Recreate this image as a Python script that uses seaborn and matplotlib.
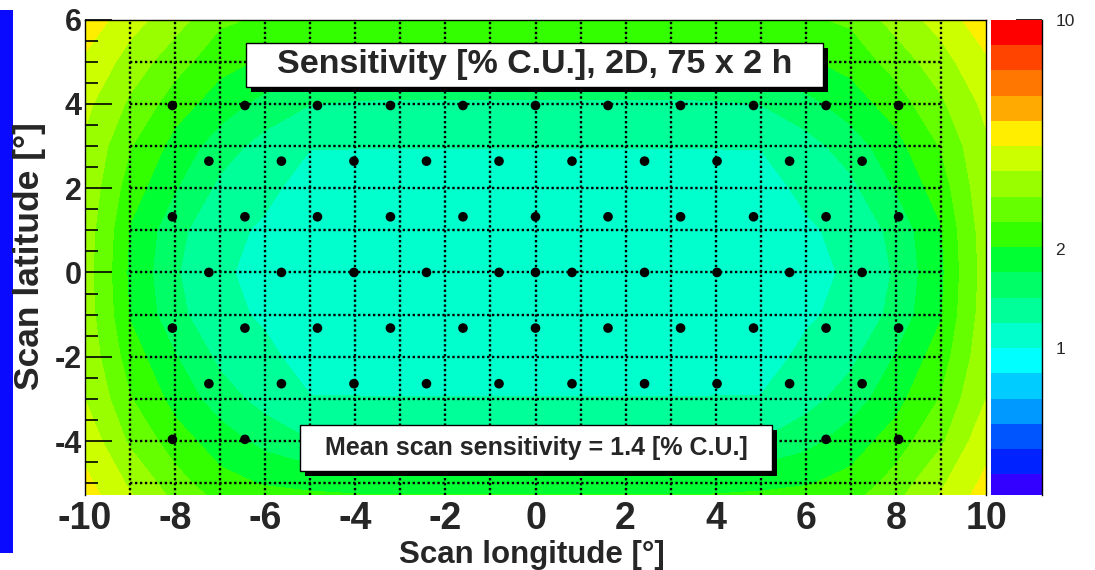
import numpy as np
import pandas as pd
import matplotlib
matplotlib.use("Agg")
import matplotlib.pyplot as plt
from matplotlib.patches import Rectangle
import seaborn as sns

# ---------------------------------------------------------------
# Sensitivity map [% C.U.] on a 1-degree grid (rows: lat 6 .. -6,
# columns: lon -10 .. 10)
# ---------------------------------------------------------------
lon_grid = list(range(-10, 11))
lat_grid = list(range(6, -7, -1))
sensitivity = [
    [4.60, 3.70, 3.10, 2.50, 2.36, 2.33, 2.32, 2.31, 2.30, 2.30, 2.30, 2.30, 2.30, 2.31, 2.32, 2.33, 2.36, 2.50, 3.10, 3.70, 4.60],
    [4.00, 3.20, 2.60, 2.15, 1.98, 1.88, 1.83, 1.81, 1.80, 1.80, 1.80, 1.80, 1.80, 1.81, 1.83, 1.88, 1.98, 2.15, 2.60, 3.20, 4.00],
    [3.60, 2.80, 2.20, 1.85, 1.60, 1.43, 1.39, 1.38, 1.38, 1.38, 1.38, 1.38, 1.38, 1.38, 1.39, 1.43, 1.60, 1.85, 2.20, 2.80, 3.60],
    [3.35, 2.45, 1.90, 1.55, 1.32, 1.20, 1.20, 1.20, 1.20, 1.20, 1.20, 1.20, 1.20, 1.20, 1.20, 1.20, 1.32, 1.55, 1.90, 2.45, 3.35],
    [3.25, 2.20, 1.72, 1.36, 1.23, 1.13, 1.11, 1.10, 1.10, 1.10, 1.10, 1.10, 1.10, 1.10, 1.11, 1.13, 1.23, 1.36, 1.72, 2.20, 3.25],
    [3.15, 2.00, 1.50, 1.24, 1.17, 1.12, 1.10, 1.09, 1.08, 1.08, 1.08, 1.08, 1.08, 1.09, 1.10, 1.12, 1.17, 1.24, 1.50, 2.00, 3.15],
    [3.10, 1.95, 1.45, 1.21, 1.16, 1.12, 1.10, 1.09, 1.08, 1.08, 1.08, 1.08, 1.08, 1.09, 1.10, 1.12, 1.16, 1.21, 1.45, 1.95, 3.10],
    [3.15, 2.00, 1.50, 1.24, 1.17, 1.12, 1.10, 1.09, 1.08, 1.08, 1.08, 1.08, 1.08, 1.09, 1.10, 1.12, 1.17, 1.24, 1.50, 2.00, 3.15],
    [3.25, 2.20, 1.72, 1.36, 1.23, 1.13, 1.11, 1.10, 1.10, 1.10, 1.10, 1.10, 1.10, 1.10, 1.11, 1.13, 1.23, 1.36, 1.72, 2.20, 3.25],
    [3.45, 2.45, 1.90, 1.55, 1.32, 1.20, 1.20, 1.20, 1.20, 1.20, 1.20, 1.20, 1.20, 1.20, 1.20, 1.20, 1.32, 1.55, 1.90, 2.45, 3.45],
    [3.85, 2.80, 2.20, 1.85, 1.60, 1.43, 1.39, 1.38, 1.38, 1.38, 1.38, 1.38, 1.38, 1.38, 1.39, 1.43, 1.60, 1.85, 2.20, 2.80, 3.85],
    [4.30, 3.35, 2.60, 2.15, 2.00, 1.92, 1.87, 1.86, 1.85, 1.85, 1.85, 1.85, 1.85, 1.86, 1.87, 1.92, 2.00, 2.15, 2.60, 3.35, 4.30],
    [4.80, 3.90, 3.10, 2.60, 2.52, 2.51, 2.50, 2.50, 2.50, 2.50, 2.50, 2.50, 2.50, 2.50, 2.50, 2.51, 2.52, 2.60, 3.10, 3.90, 4.80],
]

# Pointing pattern: 75 pointings of 2 h each
row_lat = [3.96, 2.64, 1.32, 0.0, -1.32, -2.64, -3.96]
lon_full = [-8.06, -6.45, -4.84, -3.22, -1.61, 0.0, 1.61, 3.22, 4.84, 6.45, 8.06]
lon_half = [-7.25, -5.64, -4.03, -2.42, -0.81, 0.81, 2.42, 4.03, 5.64, 7.25]
lon_mid = [-7.25, -5.64, -4.03, -2.42, -0.81, 0.0, 0.81, 2.42, 4.03, 5.64, 7.25]
row_lons = [lon_full, lon_half, lon_full, lon_mid, lon_full, lon_half, lon_full]

mean_sensitivity = 1.4

# Colour bands: 20 log-spaced contour levels from ~0.29 to 10
band_colors = [
    "#6600ff", "#3300ff", "#0022ff", "#0055ff", "#0099ff",
    "#00ccff", "#00ffff", "#00ffcc", "#00ff99", "#00ff66",
    "#00ff33", "#33ff00", "#66ff00", "#99ff00", "#ccff00",
    "#ffee00", "#ffaa00", "#ff7700", "#ff4400", "#ff0000",
]
levels = np.logspace(1 - 20 / 13, 1, 21)

pointings = pd.DataFrame({
    "lon": [lo for lons in row_lons for lo in lons],
    "lat": [la for la, lons in zip(row_lat, row_lons) for _ in lons],
})

# ---------------------------------------------------------------
sns.set_theme(style="white")
plt.rcParams["font.family"] = ["Liberation Sans", "DejaVu Sans"]
plt.rcParams["font.weight"] = "bold"
plt.rcParams["axes.unicode_minus"] = False

W, H = 1095, 570
fig = plt.figure(figsize=(W / 100, H / 100), dpi=100)
fig.patch.set_facecolor("white")


def fx(px):
    return px / W


def fy(py):
    return 1 - py / H


ax = fig.add_axes([fx(85), fy(495), fx(986) - fx(85), fy(19.5) - fy(495)])
ax.set_facecolor("white")

ax.contourf(lon_grid, lat_grid, np.array(sensitivity), levels=levels,
            colors=band_colors, zorder=0)

# dotted reference grid
grid_x = list(range(-9, 10))
grid_y = list(range(-5, 6))
ax.vlines(grid_x, -6, 6, colors="black", linewidth=1.7,
          linestyles=(0, (1, 1.1)), zorder=2)
ax.hlines(grid_y, -9, 9, colors="black", linewidth=1.7,
          linestyles=(0, (1, 1.1)), zorder=2)

sns.scatterplot(data=pointings, x="lon", y="lat", ax=ax, color="black",
                s=48, edgecolor="none", legend=False, zorder=3)

ax.set_xlim(-10, 10)
ax.set_ylim(-5.28, 6)
ax.set_xlabel("")
ax.set_ylabel("")

for side in ("left", "top", "right"):
    ax.spines[side].set_visible(True)
    ax.spines[side].set_color("black")
    ax.spines[side].set_linewidth(1.0)
ax.spines["bottom"].set_visible(False)

ax.set_xticks(list(range(-10, 11, 2)))
ax.set_yticks([-4, -2, 0, 2, 4, 6])
ax.set_yticks([v / 2 for v in range(-10, 13) if v % 4 != 0], minor=True)
ax.tick_params(axis="x", which="both", length=0, labelsize=27, pad=4.5)
ax.tick_params(axis="y", which="major", direction="in", length=19.5, width=1.2,
               color="black", labelsize=22, pad=2.2, left=True, right=False)
ax.tick_params(axis="y", which="minor", direction="in", length=9.7, width=1.2,
               color="black", left=True, right=False)
for lab in ax.get_xticklabels() + ax.get_yticklabels():
    lab.set_fontweight("bold")

# axis titles
fig.text(fx(532), fy(563), "Scan longitude [°]", ha="center", va="baseline",
         fontsize=22.5, fontweight="bold")
fig.text(fx(30), fy(256), "Scan latitude [°]", ha="center", va="center",
         rotation=90, fontsize=25.5, fontweight="bold")


def shadow_box(x0, y0, x1, y1, text, size):
    off = 5
    fig.patches.append(Rectangle((fx(x0 + off), fy(y1 + off)),
                                 fx(x1) - fx(x0), fy(y0) - fy(y1),
                                 transform=fig.transFigure, facecolor="black",
                                 edgecolor="none", zorder=5))
    fig.patches.append(Rectangle((fx(x0), fy(y1)), fx(x1) - fx(x0),
                                 fy(y0) - fy(y1), transform=fig.transFigure,
                                 facecolor="white", edgecolor="black",
                                 linewidth=1.0, zorder=6))
    fig.text(fx((x0 + x1) / 2), fy((y0 + y1) / 2), text, ha="center",
             va="center", fontsize=size, fontweight="bold", zorder=7)


shadow_box(246, 43, 823, 87, "Sensitivity [% C.U.], 2D, 75 x 2 h", 24.5)
shadow_box(300, 425, 772, 471,
           f"Mean scan sensitivity = {mean_sensitivity} [% C.U.]", 18)

# colour scale
cax = fig.add_axes([fx(991), fy(495), fx(1042) - fx(991), fy(20) - fy(495)])
cax.set_yscale("log")
cax.set_xlim(0, 1)
for lo, hi, c in zip(levels[:-1], levels[1:], band_colors):
    cax.axhspan(lo, hi, color=c, lw=0)
cax.set_ylim(0.357, 10)
for side in ("left", "top", "bottom"):
    cax.spines[side].set_visible(False)
cax.spines["right"].set_visible(True)
cax.spines["right"].set_color("black")
cax.spines["right"].set_linewidth(1.0)
cax.set_xticks([])
cax.yaxis.tick_right()
cax.set_yticks([1, 10], labels=["1", "10"])
minor_vals = [0.4, 0.5, 0.6, 0.7, 0.8, 0.9, 2, 3, 4, 5, 6, 7, 8, 9]
cax.set_yticks(minor_vals, labels=["2" if v == 2 else "" for v in minor_vals],
               minor=True)
cax.tick_params(axis="y", which="major", direction="in", length=19, width=1.2,
                color="black", labelsize=12.5, pad=9.5, right=True, left=False)
cax.tick_params(axis="y", which="minor", direction="in", length=8.6, width=1.2,
                color="black", labelsize=12.5, pad=9.5, right=True, left=False)
for lab in cax.get_yticklabels() + cax.get_yticklabels(minor=True):
    lab.set_fontweight("normal")

# blue margin strip at the left edge
fig.patches.append(Rectangle((0, fy(553)), fx(12.5), fy(10) - fy(553),
                             transform=fig.transFigure, facecolor="#0a0aff",
                             edgecolor="none", zorder=1))

fig.savefig("out.png", dpi=100)
